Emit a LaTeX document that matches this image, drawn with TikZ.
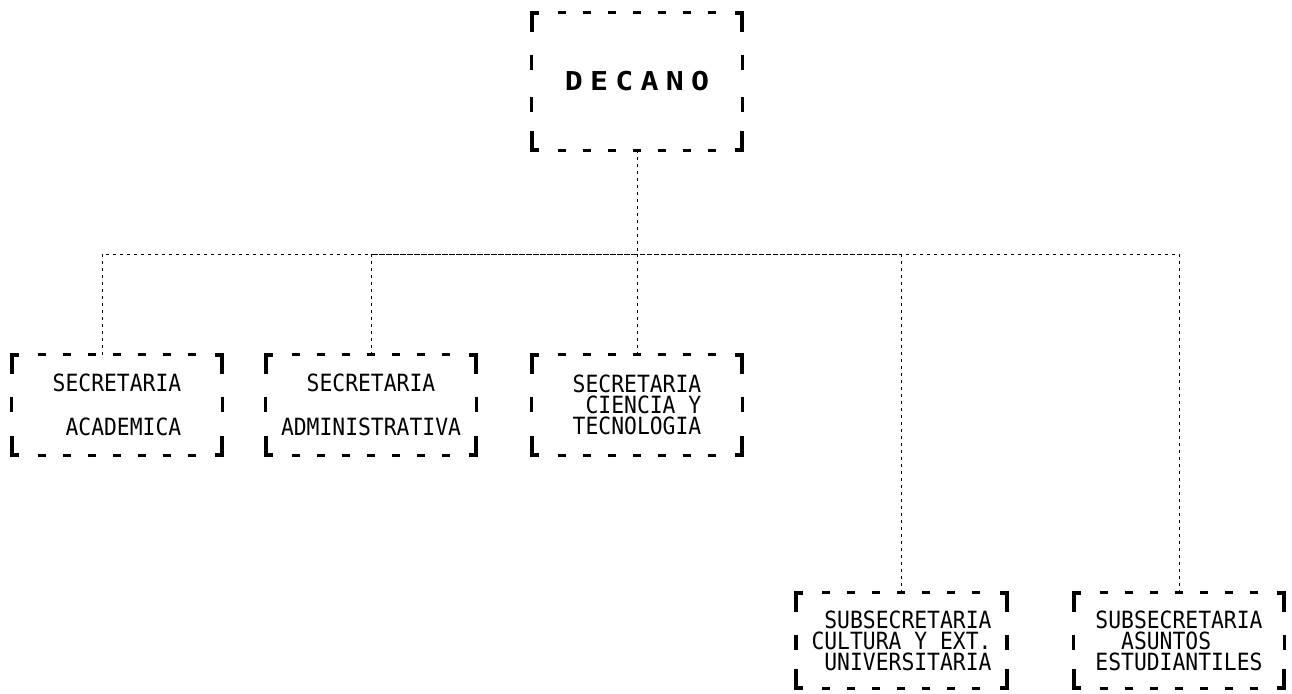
\documentclass[tikz,border=0pt]{standalone}
\usepackage{fontspec}
\usepackage{tikz}
\usetikzlibrary{calc}
\newfontfamily\mono[FakeStretch=0.9]{DejaVu Sans Mono}
\newfontfamily\monoancho[FakeStretch=1.15,LetterSpace=28]{DejaVu Sans Mono}

\begin{document}
\begin{tikzpicture}[
  x=0.2mm,y=-0.2mm,
  caja/.style={align=left,inner sep=0pt,minimum width=42mm,minimum height=20mm,font=\mono\fontsize{13.5pt}{12pt}\selectfont},
  cajabaja/.style={caja,minimum height=19mm},
  jefe/.style={caja,minimum height=27.4mm,font=\monoancho\bfseries\fontsize{14.8pt}{16pt}\selectfont},
  trazoh/.style={line width=0.6mm,dash pattern=on 1.6mm off 3.4mm},
  trazov/.style={line width=0.7mm,dash pattern=on 3mm off 5.4mm},
  esquina/.style={line width=0.8mm,line cap=rect,line join=miter},
  linea/.style={line width=0.35pt,dash pattern=on 0.6mm off 0.8mm}]
  \useasboundingbox (0,0) rectangle (1292,693);
  \node[jefe] (decano) at (637,81.5) {DECANO};
  \node[caja] (acad) at (117,405) {SECRETARIA\\[13pt]\ ACADEMICA};
  \node[caja] (admin) at (371,405) {\ \ SECRETARIA\\[13pt]ADMINISTRATIVA};
  \node[caja] (ciencia) at (637,405) {SECRETARIA\\\ CIENCIA Y\\TECNOLOGIA};
  \node[cajabaja] (cultura) at (901.5,640.5) {\ SUBSECRETARIA\\CULTURA Y EXT.\\\ UNIVERSITARIA};
  \node[cajabaja] (asuntos) at (1179,640.5) {SUBSECRETARIA\\\ \ ASUNTOS\\ESTUDIANTILES};
  \coordinate (bus) at (637,254);
  \draw[linea] (decano.south) -- (bus);
  \draw[linea] ([xshift=-3mm]acad.north) |- (bus);
  \draw[linea] (admin.north) |- (bus);
  \draw[linea] (ciencia.north) -- (bus);
  \draw[linea] (cultura.north) |- (bus);
  \draw[linea] (asuntos.north) |- (bus);
  % bordes discontinuos con esquinas
  \foreach \n in {decano,acad,admin,ciencia,cultura,asuntos}{
    \draw[trazoh] ($(\n.north west)+(26,0)$) -- ($(\n.north east)+(-20,0)$);
    \draw[trazoh] ($(\n.south west)+(26,0)$) -- ($(\n.south east)+(-20,0)$);
    \draw[trazov] ($(\n.north west)+(0,42)$) -- ($(\n.south west)+(0,-20)$);
    \draw[trazov] ($(\n.north east)+(0,42)$) -- ($(\n.south east)+(0,-20)$);
    \draw[esquina] ($(\n.north west)+(0,17)$) -- (\n.north west) -- ++(5,0);
    \draw[esquina] ($(\n.north east)+(0,17)$) -- (\n.north east) -- ++(-5,0);
    \draw[esquina] ($(\n.south west)+(0,-17)$) -- (\n.south west) -- ++(5,0);
    \draw[esquina] ($(\n.south east)+(0,-17)$) -- (\n.south east) -- ++(-5,0);
  }
\end{tikzpicture}
\end{document}
